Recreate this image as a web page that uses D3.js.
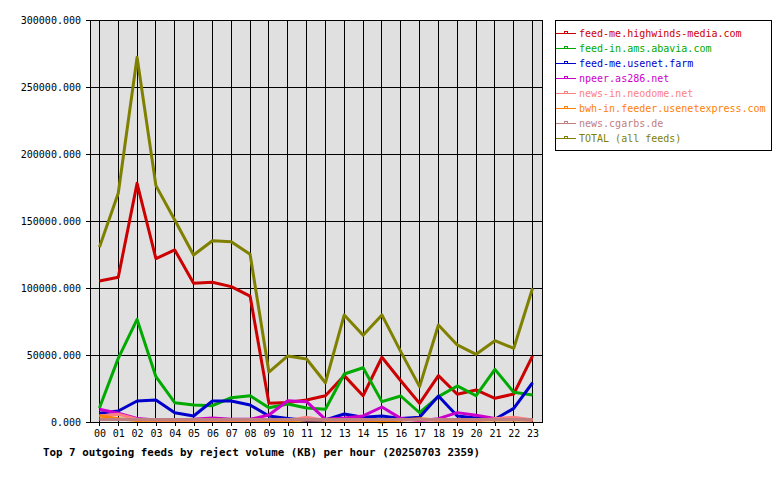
<!DOCTYPE html>
<html>
<head>
<meta charset="utf-8">
<script src="https://cdn.jsdelivr.net/npm/d3@7"></script>
<style>
  body { margin: 0; background: #fff; }
  text { font-family: "DejaVu Sans Mono", monospace; }
</style>
</head>
<body>
<script>
// chart data
var hours = ["00","01","02","03","04","05","06","07","08","09","10","11",
             "12","13","14","15","16","17","18","19","20","21","22","23"];

var feed_names = ["feed-me.highwinds-media.com", "feed-in.ams.abavia.com",
                  "feed-me.usenet.farm", "npeer.as286.net", "news-in.neodome.net",
                  "bwh-in.feeder.usenetexpress.com", "news.cgarbs.de", "TOTAL (all feeds)"];

var feed_colors = ["#cc0000", "#00aa00", "#0000cc", "#cc00cc", "#ff8080",
                   "#ff8000", "#c08080", "#808000"];

var highwinds = [105200, 108000, 178100, 121900, 128400, 103500, 104300, 101000, 94000, 14000, 14500, 16400,
                 19600, 34600, 19600, 48300, 30800, 13900, 34600, 20700, 23900, 17700, 20900, 49300];
var abavia    = [10400, 47500, 76600, 33800, 14400, 12700, 12200, 18100, 19600, 10700, 13400, 10500,
                 9500, 35800, 40500, 15200, 19400, 6900, 18900, 26900, 19600, 39300, 22200, 20100];
var usenetfarm = [6500, 8200, 15700, 16400, 6900, 4500, 15700, 15700, 12700, 4500, 2700, 1200,
                  1500, 6000, 3500, 4500, 2700, 3500, 19400, 4500, 3000, 2000, 10200, 29300];
var as286     = [9500, 6500, 2700, 1500, 1500, 2000, 3000, 2000, 2000, 5200, 15900, 15200,
                 2000, 3000, 4500, 11200, 2700, 1000, 2500, 7000, 5000, 2700, 2000, 1500];
var neodome   = [4500, 5800, 2000, 1200, 1200, 1200, 1200, 1200, 1200, 1200, 1200, 3500,
                 1200, 1200, 1200, 1200, 1500, 1500, 1200, 1200, 1200, 2500, 3500, 1500];
var usenetexpress = [4700, 2500, 1200, 1500, 1500, 1500, 1500, 1500, 1500, 1200, 1200, 1500,
                     1500, 1500, 1500, 0, 1500, 2500, 1500, 1500, 1500, 1500, 1500, 1500];
var cgarbs    = [1800, 1800, 1800, 1800, 1800, 1800, 1800, 1800, 1800, 1800, 1800, 1800,
                 1800, 1800, 1800, 1800, 1800, 1800, 1800, 1800, 1800, 1800, 1800, 1800];
var total     = [130400, 170700, 272200, 176400, 150800, 124600, 135300, 134600, 125200, 37300, 49300, 47000,
                 29300, 79900, 64700, 79900, 52500, 26400, 72400, 57500, 50500, 60700, 55000, 99800];

var y_ticks = [0, 50000, 100000, 150000, 200000, 250000, 300000];
var title = "Top 7 outgoing feeds by reject volume (KB) per hour (20250703 2359)";

//layout
var width = 780,
    height = 480;
var plot_left = 90, plot_right = 542,
    plot_top = 20, plot_bottom = 422;

var series = [highwinds, abavia, usenetfarm, as286, neodome, usenetexpress, cgarbs, total];

var svg = d3.select("body").append("svg")
    .attr("width", width)
    .attr("height", height);

var x = d3.scalePoint()
    .domain(hours)
    .range([plot_left, plot_right])
    .padding(0.5);

var y = d3.scaleLinear()
    .domain([0, 300000])
    .range([plot_bottom, plot_top]);

// plot background
svg.append("rect")
    .attr("x", plot_left)
    .attr("y", plot_top)
    .attr("width", plot_right - plot_left)
    .attr("height", plot_bottom - plot_top)
    .attr("fill", "#e0e0e0");

// grid
var grid = svg.append("g")
    .attr("shape-rendering", "crispEdges")
    .attr("stroke", "#000")
    .attr("stroke-width", 1);

grid.selectAll("line.v")
    .data(hours)
  .enter().append("line")
    .attr("class", "v")
    .attr("x1", function(d) { return x(d); })
    .attr("x2", function(d) { return x(d); })
    .attr("y1", plot_top)
    .attr("y2", plot_bottom);

grid.selectAll("line.h")
    .data(y_ticks)
  .enter().append("line")
    .attr("class", "h")
    .attr("x1", plot_left)
    .attr("x2", plot_right)
    .attr("y1", function(d) { return y(d); })
    .attr("y2", function(d) { return y(d); });

// axes
var y_axis = svg.append("g")
    .attr("transform", "translate(" + plot_left + ",0)")
    .attr("shape-rendering", "crispEdges")
    .call(d3.axisLeft(y)
        .tickValues(y_ticks)
        .tickFormat(d3.format(".3f"))
        .tickSize(4)
        .tickPadding(5));

var x_axis = svg.append("g")
    .attr("transform", "translate(0," + plot_bottom + ")")
    .attr("shape-rendering", "crispEdges")
    .call(d3.axisBottom(x)
        .tickSize(4)
        .tickPadding(4));

[y_axis, x_axis].forEach(function(a) {
    a.select(".domain").remove();
    a.selectAll("line").attr("stroke", "#000");
    a.selectAll("text")
        .attr("font-family", "DejaVu Sans Mono, monospace")
        .attr("font-size", 10)
        .attr("fill", "#000");
});

// data lines
var line = d3.line()
    .x(function(d, i) { return x(hours[i]); })
    .y(function(d) { return y(d); });

svg.append("g")
    .selectAll("path")
    .data(series)
  .enter().append("path")
    .attr("d", line)
    .attr("fill", "none")
    .attr("stroke", function(d, i) { return feed_colors[i]; })
    .attr("stroke-width", 3)
    .attr("stroke-linejoin", "round");

// plot border
svg.append("rect")
    .attr("x", plot_left + 0.5)
    .attr("y", plot_top + 0.5)
    .attr("width", plot_right - plot_left)
    .attr("height", plot_bottom - plot_top)
    .attr("fill", "none")
    .attr("stroke", "#000")
    .attr("stroke-width", 1)
    .attr("shape-rendering", "crispEdges");

// legend
var legend = svg.append("g")
    .attr("transform", "translate(555,20)");

legend.append("rect")
    .attr("x", 0.5)
    .attr("y", 0.5)
    .attr("width", 216)
    .attr("height", 130)
    .attr("fill", "#fff")
    .attr("stroke", "#000")
    .attr("shape-rendering", "crispEdges");

var row = legend.selectAll("g.row")
    .data(feed_names)
  .enter().append("g")
    .attr("class", "row")
    .attr("transform", function(d, i) { return "translate(0," + (13.5 + i * 15) + ")"; });

row.append("line")
    .attr("x1", 1)
    .attr("x2", 21)
    .attr("y1", 0)
    .attr("y2", 0)
    .attr("stroke", function(d, i) { return feed_colors[i]; })
    .attr("stroke-width", 1)
    .attr("shape-rendering", "crispEdges");

row.append("rect")
    .attr("x", 9.5)
    .attr("y", -2.5)
    .attr("width", 3)
    .attr("height", 2)
    .attr("fill", "none")
    .attr("stroke", function(d, i) { return feed_colors[i]; })
    .attr("shape-rendering", "crispEdges");

row.append("text")
    .attr("x", 24)
    .attr("y", 0)
    .attr("dy", "0.35em")
    .attr("font-size", 10)
    .attr("fill", function(d, i) { return feed_colors[i]; })
    .text(function(d) { return d; });

// title
svg.append("text")
    .attr("x", 43)
    .attr("y", 452)
    .attr("dy", "0.35em")
    .attr("font-size", 11)
    .attr("font-weight", "bold")
    .attr("textLength", 437)
    .attr("lengthAdjust", "spacingAndGlyphs")
    .attr("fill", "#000")
    .text(title);
</script>
</body>
</html>
